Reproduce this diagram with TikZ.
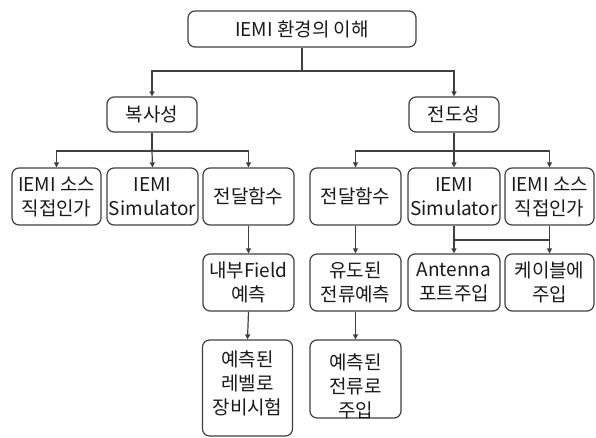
\documentclass[tikz,border=0pt]{standalone}
\usepackage{fontspec}
\setmainfont{Noto Sans CJK KR}
\usetikzlibrary{arrows.meta}
\definecolor{lc}{HTML}{404040}
\definecolor{tc}{HTML}{1A1A1A}
\begin{document}
\begin{tikzpicture}[x=1pt,y=-1pt,
  box/.style={draw=lc, line width=1.2pt, rounded corners=7pt, align=center,
    inner sep=0pt, text=tc, font=\fontsize{19}{24}\selectfont},
  txt/.style={align=center, inner sep=0pt, text=tc, font=\fontsize{19}{24}\selectfont},
  conn/.style={draw=lc, line width=1.2pt},
  arr/.style={conn, -{Triangle[length=5pt,width=5pt]}}]
\useasboundingbox[fill=white] (0,0) rectangle (596,438);
% level 0
\node[box, minimum width=228pt, minimum height=36pt] (top) at (302,29) {IEMI 환경의 이해};
% level 1
\node[box, minimum width=90pt, minimum height=35pt] (bok) at (152,114.5) {복사성};
\node[box, minimum width=90pt, minimum height=35pt] (jeon) at (454,114.5) {전도성};
% level 2
\node[box, minimum width=89pt, minimum height=57pt] (a1) at (56.5,196.5) {IEMI 소스\\직접인가};
\node[box, minimum width=91pt, minimum height=57pt] (a2) at (152.5,196.5) {IEMI\\Simulator};
\node[box, minimum width=91pt, minimum height=57pt] (a3) at (248.5,196.5) {전달함수};
\node[box, minimum width=91pt, minimum height=57pt] (b1) at (355.5,196.5) {전달함수};
\node[box, minimum width=92pt, minimum height=57pt] (b2) at (454,196.5) {IEMI\\Simulator};
\node[box, minimum width=89pt, minimum height=57pt] (b3) at (549.5,196.5) {IEMI 소스\\직접인가};
% level 3
\node[box, minimum width=91pt, minimum height=57pt] (c3) at (248.5,282.5) {내부Field\\예측};
\node[box, minimum width=91pt, minimum height=57pt] (c4) at (355.5,282.5) {유도된\\전류예측};
\node[box, minimum width=92pt, minimum height=57pt] (c5) at (454,282.5) {Antenna\\포트주입};
\node[box, minimum width=89pt, minimum height=57pt] (c6) at (549.5,282.5) {케이블에\\주입};
% level 4
\node[box, minimum width=90pt, minimum height=96pt] (d3) at (247.5,388) {};
\node[txt] (d3t) at (247.5,383) {예측된\\레벨로\\장비시험};
\node[box, minimum width=91pt, minimum height=78pt] (d4) at (355.5,379) {};
\node[txt] (d4t) at (355.5,386) {예측된\\전류로\\주입};
% junctions
\coordinate (j0) at (302,71);
\coordinate (j1) at (152,151);
\coordinate (j2) at (454,151);
\coordinate (j3) at (454,240);
\coordinate (j4) at (549.5,240);
% connectors
\draw[conn] (top.south) -- (j0);
\draw[arr] (j0) -| (bok.north);
\draw[arr] (j0) -| (jeon.north);
\draw[conn] (bok.south) -- (j1);
\draw[arr] (j1) -| (a1.north);
\draw[arr] (j1) -- (a2.north);
\draw[arr] (j1) -| (a3.north);
\draw[conn] (jeon.south) -- (j2);
\draw[arr] (j2) -| (b1.north);
\draw[arr] (j2) -- (b2.north);
\draw[arr] (j2) -| (b3.north);
\draw[arr] (a3.south) -- (c3.north);
\draw[arr] (c3.south) -- (d3.north);
\draw[arr] (b1.south) -- (c4.north);
\draw[arr] (c4.south) -- (d4.north);
\draw[arr] (b2.south) -- (c5.north);
\draw[arr] (b3.south) -- (c6.north);
\draw[conn] (j3) -- (j4);
\end{tikzpicture}
\end{document}
